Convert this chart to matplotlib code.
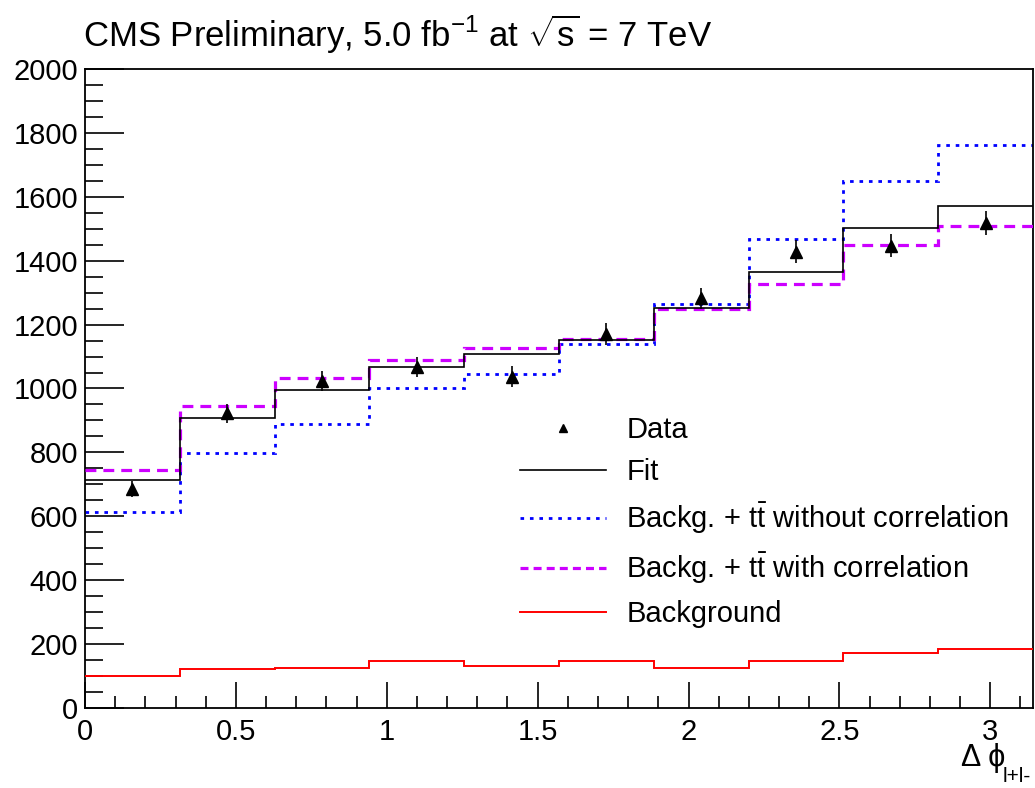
import numpy as np
import matplotlib
matplotlib.use("Agg")
import matplotlib.pyplot as plt
from matplotlib.lines import Line2D
from matplotlib.ticker import MultipleLocator, FuncFormatter

plt.rcParams['font.family'] = ['Liberation Sans', 'DejaVu Sans']
plt.rcParams['mathtext.fontset'] = 'custom'
plt.rcParams['mathtext.rm'] = 'Liberation Sans'
plt.rcParams['mathtext.it'] = 'Liberation Sans:italic'
plt.rcParams['mathtext.sf'] = 'Liberation Sans'

# 10 bins in delta phi, 0 .. pi
edges = np.linspace(0, np.pi, 11)
centers = 0.5 * (edges[:-1] + edges[1:])

data = [684, 922, 1024, 1068, 1037, 1170, 1282, 1428, 1447, 1519]
data_err = [25, 30, 32, 32, 32, 34, 34, 36, 37, 38]
fit = [713, 909, 996, 1067, 1107, 1151, 1253, 1363, 1501, 1571]
no_corr = [614, 798, 890, 1003, 1045, 1139, 1263, 1467, 1649, 1761]
with_corr = [746, 946, 1033, 1090, 1128, 1154, 1250, 1328, 1449, 1508]
background = [100, 123, 126, 147, 132, 147, 126, 147, 171, 184]

magenta = '#cc00ff'
dots = (0, (1.3, 2.1))
dashes = (0, (3.4, 2.2))

fig = plt.figure(figsize=(10.35, 7.88), dpi=100)
ax = fig.add_axes([0.0821, 0.1015, 0.916, 0.811])

ax.stairs(no_corr, edges, baseline=None, color='blue', lw=2.0,
          linestyle=dots, zorder=2)
ax.stairs(with_corr, edges, baseline=None, color=magenta, lw=2.3,
          linestyle=dashes, zorder=3)
ax.stairs(fit, edges, baseline=None, color='black', lw=1.2, zorder=4)
ax.stairs(background, edges, baseline=None, color='red', lw=1.4, zorder=4)
ax.errorbar(centers, data, yerr=data_err, fmt='^', color='black',
            ms=8, elinewidth=1.2, capsize=0, zorder=5)

ax.set_xlim(0, np.pi)
ax.set_ylim(0, 2000)
ax.xaxis.set_major_locator(MultipleLocator(0.5))
ax.xaxis.set_minor_locator(MultipleLocator(0.1))
ax.yaxis.set_major_locator(MultipleLocator(200))
ax.yaxis.set_minor_locator(MultipleLocator(50))
ax.tick_params(which='both', direction='in', top=False, right=False,
               labelsize=21, width=1.2)
ax.tick_params(axis='x', which='major', length=19, pad=7)
ax.tick_params(axis='x', which='minor', length=9)
ax.tick_params(axis='y', which='major', length=28, pad=5)
ax.tick_params(axis='y', which='minor', length=13)
for s in ax.spines.values():
    s.set_linewidth(1.3)
ax.xaxis.set_major_formatter(FuncFormatter(lambda v, p: f"{v:g}"))

handles = [
    Line2D([], [], marker='^', color='black', ls='none', ms=6),
    Line2D([], [], color='black', lw=1.2),
    Line2D([], [], color='blue', lw=2.0, ls=dots),
    Line2D([], [], color=magenta, lw=2.3, ls=(0, (2.5, 1.6))),
    Line2D([], [], color='red', lw=1.4),
]
labels = ['Data', 'Fit',
          r'Backg. + $\mathrm{t\bar{t}}$ without correlation',
          r'Backg. + $\mathrm{t\bar{t}}$ with correlation',
          'Background']
ax.legend(handles, labels, frameon=False, fontsize=21, loc='upper left',
          bbox_to_anchor=(0.447, 0.475), handlelength=2.95,
          handletextpad=0.68, labelspacing=0.49, borderaxespad=0)

fig.text(0.080, 0.940, r'CMS Preliminary, 5.0 fb$^{-1}$ at $\sqrt{\mathrm{s}}$ = 7 TeV',
         fontsize=25, ha='left', va='baseline')
fig.text(0.9715, 0.0275, 'Δ ϕ', fontsize=22, ha='right', va='baseline')
fig.text(0.9690, 0.0265, 'l+l-', fontsize=15, ha='left', va='top')

fig.savefig('out.png', dpi=100)
